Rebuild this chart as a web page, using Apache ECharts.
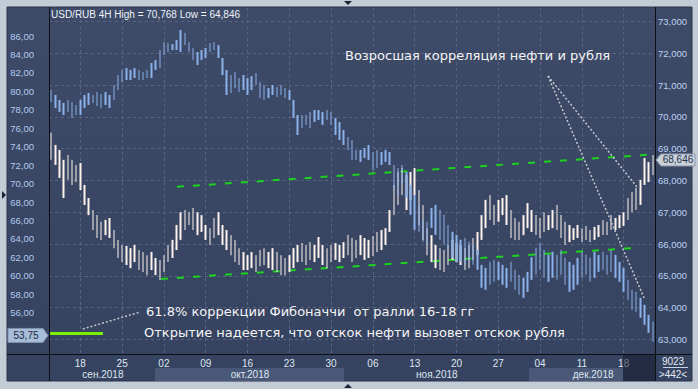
<!DOCTYPE html>
<html><head><meta charset="utf-8">
<script src="https://cdn.jsdelivr.net/npm/echarts@6/dist/echarts.min.js"></script>
<style>html,body{margin:0;padding:0;background:#c3cbd7;}#c{width:698px;height:389px;}</style>
</head><body><div id="c"></div>
<script>
// ---- data (4H bars, aggregated 12h; index 0 = 13 Sep 2018) ----
const weekTickIdx = [7,17,27,37,47,57,67,77,87,97,107,117,127,137];
const weekLabels  = ['18','25','02','09','16','23','30','06','13','20','27','04','11','18'];
const monthPos    = [12.4, 47.6, 92.3, 129.7];
const monthLabels = ['сен.2018','окт.2018','ноя.2018','дек.2018'];
const leftTicks  = [56,58,60,62,64,66,68,70,72,74,76,78,80,82,84,86];
const rightTicks = [63,64,65,66,67,68,69,70,71,72,73];

// USD/RUB (right axis)
const usdHigh = [69.5,69.12,68.96,68.65,68.8,68.65,68.49,68.55,67.86,67.45,
67.07,66.91,66.7,66.76,66.82,66.44,66.13,65.97,65.94,65.87,
65.97,65.81,65.75,65.65,65.75,65.56,65.5,65.65,65.97,66.13,
66.6,67.0,67.07,67.0,67.13,67.0,66.91,66.6,66.5,66.82,
67.0,66.6,66.44,66.28,66.13,65.87,65.75,65.65,65.75,65.65,
65.81,65.87,65.75,65.87,65.75,65.65,65.56,65.65,65.87,65.97,
66.03,65.97,66.06,65.97,66.22,65.97,65.87,65.97,66.03,65.97,
66.06,66.28,66.19,66.13,66.28,66.19,66.13,66.25,66.38,66.44,
66.5,67.07,67.86,68.27,68.39,68.17,68.27,68.39,67.7,67.23,
66.5,66.28,65.97,65.87,65.81,65.97,66.13,66.03,65.97,65.87,
65.97,66.19,66.38,66.91,67.39,67.54,67.23,67.39,67.45,67.54,
67.07,66.82,66.7,66.91,67.29,67.07,66.91,66.82,67.0,66.91,
67.07,67.23,66.91,66.7,66.6,66.5,66.6,66.5,66.57,66.44,
66.54,66.6,66.76,66.7,66.91,66.82,66.91,67.0,67.45,67.64,
67.77,68.02,68.71,68.58,68.8];
const usdLow = [68.65,68.49,68.08,67.45,68.02,67.86,67.95,67.7,67.23,66.91,
66.44,66.19,66.13,66.28,66.19,65.87,65.56,65.43,65.34,65.24,
65.43,65.18,65.12,65.02,65.18,65.02,64.87,65.12,65.43,65.56,
65.81,66.13,66.44,66.6,66.44,66.28,66.38,66.13,65.97,66.19,
66.28,65.97,65.81,65.65,65.43,65.34,65.18,65.18,65.24,65.12,
65.3,65.34,65.24,65.18,65.12,65.02,65.02,65.12,65.24,65.43,
65.43,65.34,65.5,65.43,65.56,65.34,65.24,65.43,65.5,65.43,
65.56,65.65,65.43,65.56,65.65,65.5,65.56,65.62,65.75,65.81,
65.97,66.38,66.91,67.23,67.54,67.07,67.39,67.54,66.6,66.13,
65.65,65.43,65.24,65.18,65.12,65.34,65.5,65.43,65.34,65.18,
65.24,65.5,65.65,66.13,66.5,66.76,66.6,66.7,66.91,66.6,
66.19,66.13,66.13,66.28,66.5,66.38,66.28,66.19,66.38,66.44,
66.5,66.44,66.19,65.97,66.06,66.13,66.19,66.06,66.13,66.06,
66.13,66.22,66.28,66.28,66.44,66.44,66.5,66.57,66.76,67.0,
67.07,67.23,67.86,67.95,68.17];

// Brent (left axis)
const oilHigh = [80.15,79.61,79.07,78.74,79.07,78.85,78.52,79.07,79.61,79.82,
79.61,79.93,79.72,79.93,79.61,80.69,81.77,82.32,82.53,82.32,
82.53,82.32,82.1,82.32,83.08,83.4,84.48,85.35,85.24,85.13,
85.57,86.65,86.33,85.35,84.7,84.27,84.48,84.7,85.24,85.35,
85.02,83.62,82.32,81.77,82.1,81.45,81.77,81.45,81.66,81.99,
81.02,80.69,80.37,80.69,80.47,80.69,80.37,80.15,79.07,77.44,
77.44,77.44,77.77,77.98,77.98,77.77,77.98,77.77,77.12,76.68,
75.82,75.06,74.73,73.65,73.65,73.87,74.19,73.43,73.65,73.43,
73.65,73.43,72.02,71.7,72.02,71.26,69.86,68.77,67.69,66.07,
65.85,67.37,67.69,67.15,66.61,65.52,64.77,64.44,63.9,64.12,
63.68,63.36,62.81,61.19,60.86,61.51,61.73,61.51,61.19,60.86,
61.51,60.65,60.11,59.78,60.43,62.0,63.03,63.57,62.81,62.27,
62.6,62.27,62.81,61.95,61.51,61.19,61.95,62.6,62.27,61.95,
62.6,62.27,62.6,62.27,62.81,62.27,61.51,60.86,59.56,58.48,
58.26,57.61,56.86,55.77,55.01];
const oilLow = [78.85,78.2,77.77,77.44,77.77,77.12,77.44,77.44,78.2,78.52,
78.74,78.42,78.2,78.52,78.2,79.07,80.15,81.02,81.23,81.23,
81.45,81.23,81.23,81.45,81.45,82.32,82.53,83.94,84.27,84.48,
84.48,84.27,85.02,84.27,83.4,82.86,83.4,83.62,84.27,84.48,
83.62,81.77,79.61,79.82,80.37,79.93,80.15,79.61,80.15,80.69,
79.28,79.07,79.28,79.61,79.39,79.61,79.28,79.07,77.12,75.27,
76.03,76.36,76.03,76.68,76.9,76.36,76.9,76.36,75.27,74.73,
74.19,73.65,72.57,72.57,72.35,72.78,72.57,71.48,71.7,72.02,
72.35,72.02,69.32,68.77,69.86,68.45,66.61,64.98,64.77,63.68,
63.36,65.2,64.44,63.9,63.36,62.81,61.95,61.51,61.51,61.19,
61.51,61.19,60.65,58.7,58.48,59.02,59.35,59.56,59.02,58.7,
59.35,58.48,57.94,57.61,58.26,59.56,60.11,60.65,59.78,59.35,
59.78,59.56,60.11,59.02,58.26,58.48,59.02,59.78,60.11,59.35,
59.78,60.43,60.65,60.11,60.43,59.78,59.35,58.26,57.4,56.31,
56.1,55.45,54.69,53.82,52.84];

// annotation lines: [barIndex, value]
const upperChannel = [[30.1, 67.80], [142.8, 68.81]];
const lowerChannel = [[26.3, 64.90], [138.8, 65.87]];
const pointerOil   = [[118.9, 71.29], [142.1, 64.24]];
const pointerUsd   = [[118.9, 71.29], [140.4, 67.76]];
const fibLevel = 53.75;
const fibLine  = [[-0.5, fibLevel], [12.4, fibLevel]];
const fibPointer = [[7.6, 54.23], [21.3, 56.07]];
const lastUsd = 68.646;

const cats = usdHigh.map((_, i) => String(i));
const usdCandles = usdLow.map((lo, i) => [lo, usdHigh[i], lo, usdHigh[i]]);
const oilCandles = oilLow.map((lo, i) => [lo, oilHigh[i], lo, oilHigh[i]]);

const FONT = 'Liberation Sans';
const chart = echarts.init(document.getElementById('c'), null, {renderer: 'svg'});

const lineSeries = (data, yIdx, color, width, type, z) => ({
  type: 'line', xAxisIndex: 1, yAxisIndex: yIdx, data, symbol: 'none', silent: true, z,
  lineStyle: {color, width, type}, animation: false
});

chart.setOption({
  animation: false,
  backgroundColor: '#c3cbd7',
  grid: {left: 49, right: 43, top: 8, bottom: 35},
  xAxis: [
    {type: 'category', data: cats, boundaryGap: true, show: false},
    {type: 'value', min: -0.5, max: 144.5, position: 'bottom',
     axisLine: {show: false}, axisTick: {show: false, customValues: weekTickIdx},
     splitLine: {show: true, lineStyle: {color: '#56647f', type: [3, 3]}},
     axisLabel: {customValues: weekTickIdx, margin: 4, color: '#dfe6f0', fontFamily: FONT, fontSize: 10,
       formatter: v => weekLabels[weekTickIdx.indexOf(Math.round(v))] || ''}},
    {type: 'value', min: -0.5, max: 144.5, position: 'bottom',
     axisLine: {show: false}, axisTick: {show: false, customValues: monthPos}, splitLine: {show: false},
     axisLabel: {customValues: monthPos, margin: 15, color: '#dfe6f0', fontFamily: FONT, fontSize: 10,
       formatter: v => { const k = monthPos.findIndex(p => Math.abs(p - v) < 0.01); return k >= 0 ? monthLabels[k] : ''; }}}
  ],
  yAxis: [
    {type: 'value', position: 'left', min: 51.52, max: 89.04,
     axisLine: {show: false}, axisTick: {show: false, customValues: leftTicks}, splitLine: {show: false},
     axisLabel: {customValues: leftTicks, margin: 15, color: '#b3cbee', fontFamily: FONT, fontSize: 9.5,
       formatter: v => v.toFixed(2).replace('.', ',')}},
    {type: 'value', position: 'right', min: 62.537, max: 73.431,
     axisLine: {show: false}, axisTick: {show: false, customValues: rightTicks},
     splitLine: {show: true, lineStyle: {color: '#56647f', type: [3, 3]}},
     axisLabel: {customValues: rightTicks, margin: 3, color: '#bcd2f2', fontFamily: FONT, fontSize: 9.5,
       formatter: v => v.toFixed(3).replace('.', ',')}}
  ],
  series: [
    lineSeries(upperChannel, 1, '#1ed21e', 2, [7, 9], 3),
    lineSeries(lowerChannel, 1, '#1ed21e', 2, [7, 9], 3),
    {type: 'candlestick', name: 'USD/RUB', xAxisIndex: 0, yAxisIndex: 1, data: usdCandles, barWidth: 2, z: 4,
     itemStyle: {color: '#fdf3ec', color0: '#fdf3ec', borderColor: '#fdf3ec', borderColor0: '#fdf3ec', borderWidth: 0}},
    {type: 'candlestick', name: 'Brent', xAxisIndex: 0, yAxisIndex: 0, data: oilCandles, barWidth: 2, z: 5,
     itemStyle: {color: '#8cb2ea', color0: '#8cb2ea', borderColor: '#8cb2ea', borderColor0: '#8cb2ea', borderWidth: 0}},
    lineSeries(pointerOil, 1, '#c4c8d0', 1.5, [2, 2], 6),
    lineSeries(pointerUsd, 1, '#c4c8d0', 1.5, [2, 2], 6),
    lineSeries(fibLine, 0, '#7cf000', 3, 'solid', 6),
    lineSeries(fibPointer, 0, '#c4c8d0', 1.5, [2, 2], 6)
  ],
  graphic: [
    {type: 'rect', z: -10, shape: {x: 7, y: 7, width: 685, height: 374},
     style: {fill: new echarts.graphic.LinearGradient(0, 0, 0, 1, [{offset: 0, color: '#3d4a68'}, {offset: 1, color: '#354260'}]),
             stroke: '#2a3448', lineWidth: 1}},
    {type: 'rect', z: -9, shape: {x: 155, y: 368, width: 189, height: 13}, style: {fill: '#4a5877'}},
    {type: 'rect', z: -9, shape: {x: 529, y: 368, width: 94, height: 13}, style: {fill: '#4a5877'}},
    {type: 'polygon', z: 10, shape: {points: [[344, 1], [352, 1], [348, 5]]}, style: {fill: '#1c2230'}},
    {type: 'polygon', z: 10, shape: {points: [[2, 191], [2, 199], [6, 195]]}, style: {fill: '#1c2230'}},
    {type: 'polygon', z: 10, shape: {points: [[344, 388], [352, 388], [348, 384]]}, style: {fill: '#1c2230'}},
    {type: 'line', z: 20, shape: {x1: 49.5, y1: 7, x2: 49.5, y2: 381}, style: {stroke: '#0c0f16', lineWidth: 1}},
    {type: 'line', z: 20, shape: {x1: 655.5, y1: 7, x2: 655.5, y2: 381}, style: {stroke: '#0c0f16', lineWidth: 1}},
    {type: 'line', z: 20, shape: {x1: 7, y1: 354.5, x2: 692, y2: 354.5}, style: {stroke: '#0c0f16', lineWidth: 1}},
    {type: 'rect', z: 21, shape: {x: 623, y: 355, width: 32, height: 26}, style: {fill: 'rgba(22,28,46,0.55)'}},
    {type: 'text', z: 22, x: 673, y: 361, style: {text: '9023', fill: '#e4eaf3', font: '10px ' + FONT, align: 'center', verticalAlign: 'middle'}},
    {type: 'line', z: 22, shape: {x1: 663, y1: 367.5, x2: 688, y2: 367.5}, style: {stroke: '#c9d2e0', lineWidth: 1}},
    {type: 'text', z: 22, x: 673, y: 374, style: {text: '>442<', fill: '#e4eaf3', font: '10px ' + FONT, align: 'center', verticalAlign: 'middle'}},
    {type: 'text', z: 22, x: 51, y: 14, style: {text: 'USD/RUB 4H High = 70,768 Low = 64,846', fill: '#eef2f8', font: '10px ' + FONT, align: 'left', verticalAlign: 'middle'}},
    {type: 'text', z: 22, x: 345, y: 55, style: {text: 'Возросшая корреляция нефти и рубля', fill: '#f4f4f4', font: '13px DejaVu Sans', align: 'left', verticalAlign: 'middle'}},
    {type: 'text', z: 22, x: 146, y: 311, style: {text: '61.8% коррекции Фибоначчи  от ралли 16-18 гг', fill: '#f4f4f4', font: '13px DejaVu Sans', align: 'left', verticalAlign: 'middle'}},
    {type: 'text', z: 22, x: 144, y: 332, style: {text: 'Открытие надеется, что отскок нефти вызовет отскок рубля', fill: '#f4f4f4', font: '13px DejaVu Sans', align: 'left', verticalAlign: 'middle'}}
  ]
});

// value tags placed through the axes
const yUsd = chart.convertToPixel({yAxisIndex: 1}, lastUsd);
const yFib = chart.convertToPixel({yAxisIndex: 0}, fibLevel) + 2;
const fmt = (v, d) => v.toFixed(d).replace('.', ',');
chart.setOption({graphic: [
  {id: 'tagR', type: 'polygon', z: 23, shape: {points: [[656, yUsd], [661, yUsd - 6], [695, yUsd - 6], [695, yUsd + 6], [661, yUsd + 6]]},
   style: {fill: '#c9d0da', stroke: '#8e98a8', lineWidth: 1}},
  {id: 'tagRt', type: 'text', z: 24, x: 678, y: yUsd, style: {text: fmt(lastUsd, 3), fill: '#27324a', font: '10px ' + FONT, align: 'center', verticalAlign: 'middle'}},
  {id: 'tagL', type: 'polygon', z: 23, shape: {points: [[8, yFib - 7], [43, yFib - 7], [48, yFib], [43, yFib + 7], [8, yFib + 7]]},
   style: {fill: '#a7bdd9', stroke: '#7f93ae', lineWidth: 1}},
  {id: 'tagLt', type: 'text', z: 24, x: 26, y: yFib, style: {text: fmt(fibLevel, 2), fill: '#1d2940', font: '10px ' + FONT, align: 'center', verticalAlign: 'middle'}}
]});
</script></body></html>
